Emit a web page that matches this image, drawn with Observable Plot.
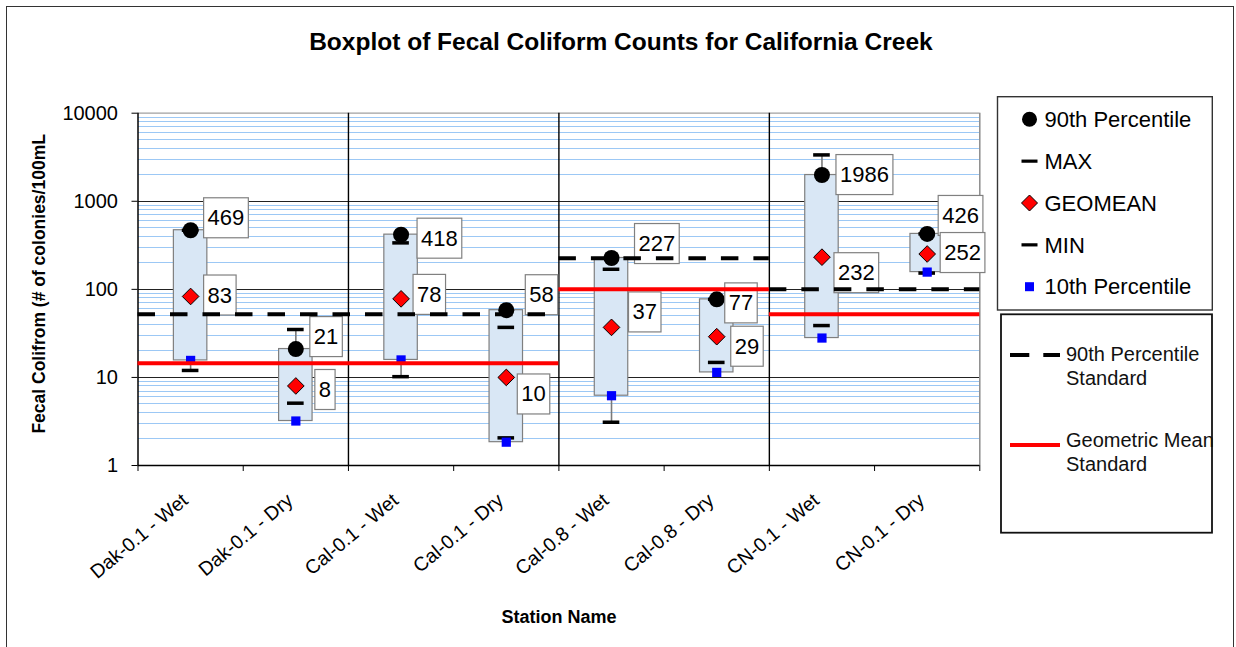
<!DOCTYPE html>
<html>
<head>
<meta charset="utf-8">
<script src="https://cdn.jsdelivr.net/npm/d3@7"></script>
<script src="https://cdn.jsdelivr.net/npm/@observablehq/plot@0.6"></script>
<style>
  html, body { margin: 0; padding: 0; background: #fff; }
  #chart { position: relative; width: 1236px; height: 647px; overflow: hidden; font-family: "Liberation Sans", Arial, sans-serif; }
  #chart > svg { position: absolute; left: 0; top: 0; }
  #frame { position: absolute; left: 6px; top: 6px; width: 1228px; height: 700px; border: 1.5px solid #333; box-sizing: border-box; pointer-events: none; }
</style>
</head>
<body>
<div id="chart"><div id="frame"></div></div>
<script>
// ---- data ----
const stations = ["Dak-0.1 - Wet", "Dak-0.1 - Dry", "Cal-0.1 - Wet", "Cal-0.1 - Dry",
                  "Cal-0.8 - Wet", "Cal-0.8 - Dry", "CN-0.1 - Wet", "CN-0.1 - Dry"];
const pct90   = [469, 21, 418, 58, 227, 77, 1986, 426];
const maxVal  = [469, 35, 337, 37, 169, 77, 3360, 426];
const geomean = [83, 8, 78, 10, 37, 29, 232, 252];
const minVal  = [12, 5.1, 10.2, 2.06, 3.1, 14.8, 38.8, 153];
const pct10   = [15.6, 3.2, 15.8, 1.84, 6.2, 11.4, 28, 157];

// standards apply to station groups (category index ranges)
const stdFrom = [0, 4, 6];
const stdTo   = [4, 6, 8];
const p90Standard = [52, 225, 100];
const gmStandard  = [14.5, 100, 52];

const yTicks = [1, 10, 100, 1000, 10000];

// ---- layout of the data-label call-outs (pixel nudges: [box left offset, vertical offset]) ----
const p90LabelNudge = [[13,-12],[14,-12],[16,4],[19,-15],[23,-14],[8,4],[14,0],[11,-18]];
const gmLabelNudge  = [[13,-1],[19,4],[12,-4],[11,17],[17,-15],[14,10],[12,16],[13,-1]];

const LABEL_INK = "#010101";
const idx = d3.range(stations.length);
const cx = i => i + 0.5;
const minor = [];
for (const d of [1, 10, 100, 1000]) for (let k = 2; k <= 9; k++) minor.push(d * k);
const lowAll  = idx.map(i => Math.min(pct90[i], maxVal[i], geomean[i], minVal[i], pct10[i]));
const highAll = idx.map(i => Math.max(pct90[i], maxVal[i], geomean[i], minVal[i], pct10[i]));
const stdIdx = d3.range(stdFrom.length);

const labelMarks = [];
idx.forEach(i => {
  labelMarks.push(Plot.text([i], {x: cx, y: j => pct90[j], text: j => String(pct90[j]),
    dx: p90LabelNudge[i][0] + 4, dy: p90LabelNudge[i][1], textAnchor: "start", lineAnchor: "middle",
    fontSize: 22, fill: LABEL_INK}));
  labelMarks.push(Plot.text([i], {x: cx, y: j => geomean[j], text: j => String(geomean[j]),
    dx: gmLabelNudge[i][0] + 4, dy: gmLabelNudge[i][1], textAnchor: "start", lineAnchor: "middle",
    fontSize: 22, fill: LABEL_INK}));
});

const chart = Plot.plot({
  width: 1236,
  height: 647,
  marginLeft: 137.5,
  marginRight: 256.7,
  marginTop: 112.7,
  marginBottom: 182,
  style: {fontFamily: '"Liberation Sans", Arial, sans-serif', fontSize: "20px", background: "transparent", color: "#000", overflow: "visible"},
  x: {domain: [0, 8]},
  y: {type: "log", domain: [1, 10000]},
  marks: [
    // grid
    Plot.ruleY(minor, {stroke: "#9cc8f5", strokeWidth: 1, shapeRendering: "crispEdges"}),
    Plot.ruleY([10, 100, 1000], {stroke: "#222", strokeWidth: 1, shapeRendering: "crispEdges"}),
    Plot.ruleY([10000], {stroke: "#a0a0a0", strokeWidth: 1.3}),
    Plot.ruleX([2, 4, 6], {stroke: "#000", strokeWidth: 1.4}),
    Plot.ruleX([8], {stroke: "#8c8c8c", strokeWidth: 1.5}),
    // axes
    Plot.axisY({ticks: yTicks, tickFormat: d => String(d), tickSize: 6, tickPadding: 14, fontSize: 20, label: null}),
    Plot.axisX({ticks: d3.range(0, 9), tickFormat: () => "", tickSize: 6, label: null}),
    Plot.ruleX([0], {stroke: "#000", strokeWidth: 1.5}),
    Plot.ruleY([1], {stroke: "#000", strokeWidth: 1.5}),
    // whiskers (high-low lines)
    Plot.ruleX(idx, {x: cx, y1: i => lowAll[i], y2: i => highAll[i], stroke: "#7a7a7a", strokeWidth: 1.6}),
    // boxes from 10th to 90th percentile
    Plot.rect(idx, {x1: i => cx(i) - 0.159, x2: i => cx(i) + 0.159, y1: i => pct10[i], y2: i => pct90[i],
      fill: "#d9e7f5", stroke: "#7f7f7f", strokeWidth: 1.2}),
    // markers
    Plot.dot(idx, {x: cx, y: i => pct90[i], r: 8, fill: "#000", stroke: "none"}),
    Plot.ruleY(idx, {y: i => maxVal[i], x1: i => cx(i) - 0.079, x2: i => cx(i) + 0.079, stroke: "#000", strokeWidth: 3.5}),
    Plot.dot(idx, {x: cx, y: i => geomean[i], symbol: "diamond2", r: 7.5, fill: "#ff0000", stroke: "#000", strokeWidth: 1}),
    Plot.ruleY(idx, {y: i => minVal[i], x1: i => cx(i) - 0.079, x2: i => cx(i) + 0.079, stroke: "#000", strokeWidth: 3.5}),
    Plot.dot(idx, {x: cx, y: i => pct10[i], symbol: "square", r: 5.2, fill: "#0000ff", stroke: "none"}),
    // data labels
    ...labelMarks,
    // standards
    Plot.ruleY(stdIdx, {y: i => p90Standard[i], x1: i => stdFrom[i], x2: i => stdTo[i], stroke: "#000", strokeWidth: 4, strokeDasharray: "17.5 15"}),
    Plot.ruleY(stdIdx, {y: i => gmStandard[i], x1: i => stdFrom[i], x2: i => stdTo[i], stroke: "#ff0000", strokeWidth: 4}),
    // category labels
    Plot.text(idx, {x: cx, frameAnchor: "bottom", text: i => stations[i], rotate: -40, textAnchor: "end",
      lineAnchor: "bottom", dy: 37, dx: -1.5, fontSize: 19.5, fill: "#000"}),
    // titles
    Plot.text(["Boxplot of Fecal Coliform Counts for California Creek"], {frameAnchor: "top", text: d => d,
      dx: 62, dy: -70.7, fontSize: 24.5, fontWeight: "bold", lineAnchor: "middle", fill: "#000"}),
    Plot.text(["Fecal Colifrom (# of colonies/100mL"], {frameAnchor: "left", text: d => d, rotate: -90,
      dx: -98.5, dy: -5.5, fontSize: 17.5, fontWeight: "bold", textAnchor: "middle", lineAnchor: "middle", fill: "#000"}),
    Plot.text(["Station Name"], {frameAnchor: "bottom", text: d => d, dy: 152, fontSize: 18, fontWeight: "bold",
      lineAnchor: "middle", fill: "#000"})
  ]
});

const host = document.getElementById("chart");
host.insertBefore(chart, host.firstChild);

// white call-out boxes behind the data labels
const NS = "http://www.w3.org/2000/svg";
const labelTexts = [];
chart.querySelectorAll("text").forEach(t => {
  let el = t, hit = false;
  while (el && el !== chart) {
    const f = el.getAttribute && el.getAttribute("fill");
    if (f && f.toLowerCase() === LABEL_INK) { hit = true; break; }
    el = el.parentNode;
  }
  if (hit) labelTexts.push(t);
});
labelTexts.forEach(t => {
  const b = t.getBBox();
  const r = document.createElementNS(NS, "rect");
  r.setAttribute("x", b.x - 4);
  r.setAttribute("y", b.y + b.height / 2 - 20);
  r.setAttribute("width", b.width + 8);
  r.setAttribute("height", 40);
  r.setAttribute("fill", "#fff");
  r.setAttribute("stroke", "#808080");
  r.setAttribute("stroke-width", 1.2);
  const tr = t.getAttribute("transform");
  if (tr) r.setAttribute("transform", tr);
  t.parentNode.insertBefore(r, t);
});

// ---- legend ----
const leg = d3.select(host).append("svg")
  .attr("width", 1236).attr("height", 647)
  .style("position", "absolute").style("left", 0).style("top", 0)
  .style("font-family", '"Liberation Sans", Arial, sans-serif');

leg.append("rect").attr("x", 997.5).attr("y", 96.7).attr("width", 214.8).attr("height", 213.3)
  .attr("fill", "#fff").attr("stroke", "#333").attr("stroke-width", 1.4);
const items1 = [
  {name: "90th Percentile", kind: "circle"},
  {name: "MAX", kind: "dash"},
  {name: "GEOMEAN", kind: "diamond"},
  {name: "MIN", kind: "dash"},
  {name: "10th Percentile", kind: "square"}
];
items1.forEach((it, k) => {
  const cy = 119.3 + k * 41.85;
  const sx = 1029.5;
  if (it.kind === "circle") leg.append("circle").attr("cx", sx).attr("cy", cy).attr("r", 7.5).attr("fill", "#000");
  if (it.kind === "dash") leg.append("rect").attr("x", sx - 8).attr("y", cy - 1.6).attr("width", 16).attr("height", 3.2).attr("fill", "#000");
  if (it.kind === "diamond") leg.append("path").attr("d", `M${sx},${cy-8}L${sx+8},${cy}L${sx},${cy+8}L${sx-8},${cy}Z`)
    .attr("fill", "#ff0000").attr("stroke", "#000").attr("stroke-width", 1);
  if (it.kind === "square") leg.append("rect").attr("x", sx - 4.5).attr("y", cy - 4.5).attr("width", 9).attr("height", 9).attr("fill", "#0000ff");
  leg.append("text").attr("x", 1044.5).attr("y", cy + 7.7).attr("font-size", 22).attr("fill", "#000").text(it.name);
});

leg.append("rect").attr("x", 1001).attr("y", 314.3).attr("width", 211).attr("height", 218.4)
  .attr("fill", "#fff").attr("stroke", "#111").attr("stroke-width", 1.8);
leg.append("line").attr("x1", 1010).attr("x2", 1060).attr("y1", 355).attr("y2", 355)
  .attr("stroke", "#000").attr("stroke-width", 4).attr("stroke-dasharray", "19.3 14");
leg.append("line").attr("x1", 1010).attr("x2", 1060).attr("y1", 445).attr("y2", 445)
  .attr("stroke", "#ff0000").attr("stroke-width", 4);
[["90th Percentile", 360.7], ["Standard", 385], ["Geometric Mean", 446.7], ["Standard", 470.7]].forEach(([s, y]) => {
  leg.append("text").attr("x", 1066).attr("y", y).attr("font-size", 20).attr("fill", "#111").text(s);
});
</script>
</body>
</html>
